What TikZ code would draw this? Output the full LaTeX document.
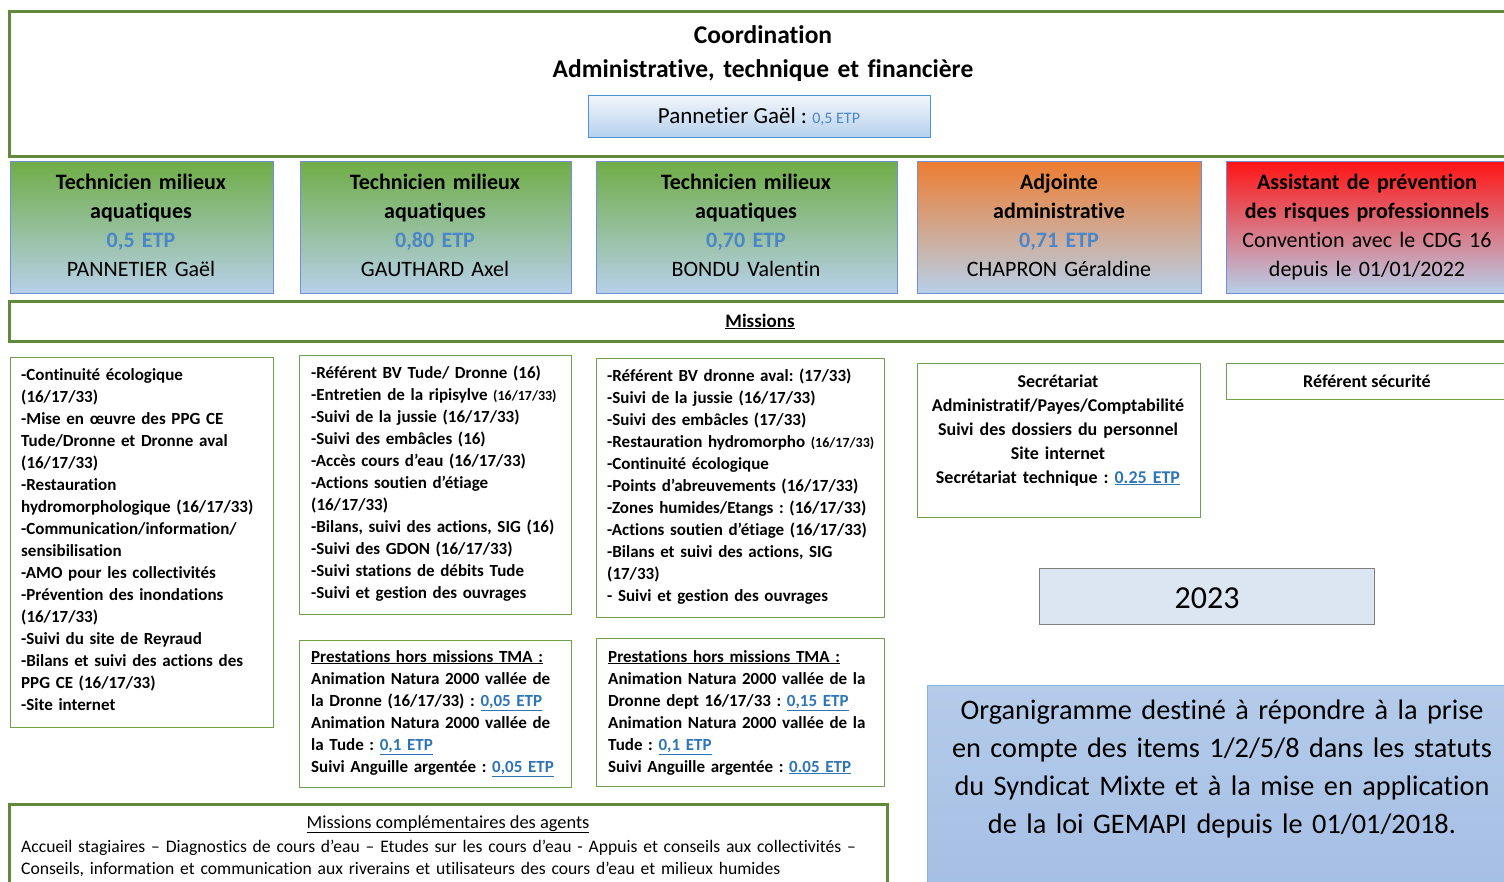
\documentclass[tikz,border=0pt]{standalone}
\usepackage{fontspec}
\setmainfont{Carlito}[Ligatures={NoCommon}]
\frenchspacing
\definecolor{framegreen}{RGB}{96,137,60}
\definecolor{boxgreen}{RGB}{112,160,75}
\definecolor{techgreen}{RGB}{112,173,71}
\definecolor{lightblue}{RGB}{183,208,234}
\definecolor{adjorange}{RGB}{237,125,49}
\definecolor{apred}{RGB}{255,20,20}
\definecolor{techborder}{RGB}{111,143,214}
\definecolor{etpblue}{RGB}{74,134,200}
\definecolor{linkblue}{RGB}{46,117,182}
\definecolor{pantop}{RGB}{242,246,251}
\definecolor{panbot}{RGB}{181,208,237}
\definecolor{panborder}{RGB}{78,148,212}
\definecolor{yearfill}{RGB}{220,230,242}
\definecolor{yearborder}{RGB}{127,127,127}
\definecolor{orgtop}{RGB}{180,203,234}
\definecolor{orgbot}{RGB}{165,190,227}
\definecolor{orgborder}{RGB}{141,179,226}
\newcommand{\etp}[1]{\textcolor{linkblue}{\underline{#1}}}
\newcommand{\smallnum}[1]{{\fontsize{14}{22}\selectfont #1}}
\begin{document}
\begin{tikzpicture}[x=1pt,y=-1pt,
  frame/.style={draw=framegreen, line width=3pt, inner sep=0pt, anchor=north west},
  mbox/.style={draw=boxgreen, line width=1.2pt, inner sep=0pt, anchor=north west},
  techbox/.style={draw=techborder, line width=1pt, inner sep=0pt, anchor=north west, top color=#1, bottom color=lightblue},
  techtext/.style={anchor=base, inner sep=0pt, align=center, font=\fontsize{22}{29.3}\selectfont\bfseries},
  listtext/.style={anchor=base west, inner sep=0pt, align=left, text width=300pt, font=\fontsize{17}{22}\selectfont\bfseries},
  ctext/.style={anchor=base, inner sep=0pt, align=center}
]
\useasboundingbox (0,0) rectangle (1504,881);
\clip (0,0) rectangle (1504,881);

% top coordination frame
\node[frame, minimum width=1504pt, minimum height=145pt] (top) at (8,10) {};
\node[ctext, text width=700pt, font=\fontsize{25.5}{34}\selectfont\bfseries] (coordtitle) at (763,43) {Coordination\\Administrative, technique et financière};
\node[draw=panborder, line width=1pt, top color=pantop, bottom color=panbot, anchor=north west, inner sep=0pt, minimum width=342pt, minimum height=42pt] (pan) at (588,95) {};
\node[ctext, font=\fontsize{23}{26}\selectfont] (pantext) at (759,123) {Pannetier Gaël : {\fontsize{16}{18}\selectfont\textcolor{etpblue}{0,5 ETP}}};

% technician boxes
\node[techbox=techgreen, minimum width=263pt, minimum height=132pt] (b1) at (10,161) {};
\node[techbox=techgreen, minimum width=271pt, minimum height=132pt] (b2) at (300,161) {};
\node[techbox=techgreen, minimum width=301pt, minimum height=132pt] (b3) at (596,161) {};
\node[techbox=adjorange, minimum width=284pt, minimum height=132pt] (b4) at (917,161) {};
\node[techbox=apred, minimum width=290pt, minimum height=132pt] (b5) at (1226,161) {};

\node[techtext, text width=263pt] (t1) at (141,189) {Technicien milieux\\aquatiques\\\textcolor{etpblue}{0,5 ETP}\\\mdseries PANNETIER Gaël};
\node[techtext, text width=271pt] (t2) at (435,189) {Technicien milieux\\aquatiques\\\textcolor{etpblue}{0,80 ETP}\\\mdseries GAUTHARD Axel};
\node[techtext, text width=301pt] (t3) at (746,189) {Technicien milieux\\aquatiques\\\textcolor{etpblue}{0,70 ETP}\\\mdseries BONDU Valentin};
\node[techtext, text width=284pt] (t4) at (1059,189) {Adjointe\\administrative\\\textcolor{etpblue}{0,71 ETP}\\\mdseries CHAPRON Géraldine};
\node[techtext, text width=300pt] (t5) at (1367,189) {Assistant de prévention\\des risques professionnels\\\mdseries Convention avec le CDG 16\\depuis le 01/01/2022};

% missions bar
\node[frame, minimum width=1504pt, minimum height=40pt] (missbar) at (8,300) {};
\node[ctext, font=\fontsize{19}{22}\selectfont\bfseries] (misstitle) at (760,327) {\underline{Missions}};

% mission lists
\node[mbox, minimum width=263pt, minimum height=370pt] (m1) at (10,357) {};
\node[listtext] (m1t) at (21,380) {-Continuité écologique\\(16/17/33)\\-Mise en œuvre des PPG CE\\Tude/Dronne et Dronne aval\\(16/17/33)\\-Restauration\\hydromorphologique (16/17/33)\\-Communication/information/\\sensibilisation\\-AMO pour les collectivités\\-Prévention des inondations\\(16/17/33)\\-Suivi du site de Reyraud\\-Bilans et suivi des actions des\\PPG CE (16/17/33)\\-Site internet};

\node[mbox, minimum width=272pt, minimum height=259pt] (m2) at (299,355) {};
\node[listtext] (m2t) at (311,378) {-Référent BV Tude/ Dronne (16)\\-Entretien de la ripisylve \smallnum{(16/17/33)}\\-Suivi de la jussie (16/17/33)\\-Suivi des embâcles (16)\\-Accès cours d’eau (16/17/33)\\-Actions soutien d’étiage\\(16/17/33)\\-Bilans, suivi des actions, SIG (16)\\-Suivi des GDON (16/17/33)\\-Suivi stations de débits Tude\\-Suivi et gestion des ouvrages};

\node[mbox, minimum width=288pt, minimum height=259pt] (m3) at (596,358) {};
\node[listtext] (m3t) at (607,381) {-Référent BV dronne aval: (17/33)\\-Suivi de la jussie (16/17/33)\\-Suivi des embâcles (17/33)\\-Restauration hydromorpho \smallnum{(16/17/33)}\\-Continuité écologique\\-Points d’abreuvements (16/17/33)\\-Zones humides/Etangs : (16/17/33)\\-Actions soutien d’étiage (16/17/33)\\-Bilans et suivi des actions, SIG\\(17/33)\\- Suivi et gestion des ouvrages};

% prestations
\node[mbox, minimum width=272pt, minimum height=147pt] (p2) at (299,640) {};
\node[listtext] (p2t) at (311,662) {\underline{Prestations hors missions TMA :}\\Animation Natura 2000 vallée de\\la Dronne (16/17/33) : \etp{0,05 ETP}\\Animation Natura 2000 vallée de\\la Tude : \etp{0,1 ETP}\\Suivi Anguille argentée : \etp{0,05 ETP}};

\node[mbox, minimum width=288pt, minimum height=148pt] (p3) at (596,638) {};
\node[listtext] (p3t) at (608,662) {\underline{Prestations hors missions TMA :}\\Animation Natura 2000 vallée de la\\Dronne dept 16/17/33 : \etp{0,15 ETP}\\Animation Natura 2000 vallée de la\\Tude : \etp{0,1 ETP}\\Suivi Anguille argentée : \etp{0.05 ETP}};

% secretariat
\node[mbox, minimum width=283pt, minimum height=154pt] (sec) at (917,363) {};
\node[ctext, text width=283pt, font=\fontsize{18}{24}\selectfont\bfseries] (sect) at (1058,387) {Secrétariat\\Administratif/Payes/Comptabilité\\Suivi des dossiers du personnel\\Site internet\\Secrétariat technique : \etp{0.25 ETP}};

\node[mbox, minimum width=290pt, minimum height=36pt] (ref) at (1226,363) {};
\node[ctext, font=\fontsize{18}{20}\selectfont\bfseries] (reft) at (1367,387) {Référent sécurité};

% 2023
\node[draw=yearborder, line width=1pt, fill=yearfill, anchor=north west, inner sep=0pt, minimum width=335pt, minimum height=56pt] (year) at (1039,568) {};
\node[ctext, font=\fontsize{32}{36}\selectfont] (yeart) at (1207,608) {2023};

% organigramme note
\node[draw=orgborder, line width=1pt, top color=orgtop, bottom color=orgbot, anchor=north west, inner sep=0pt, minimum width=590pt, minimum height=210pt] (org) at (927,685) {};
\node[ctext, text width=580pt, font=\fontsize{28.3}{38}\selectfont] (orgt) at (1222,719) {Organigramme destiné à répondre à la prise\\en compte des items 1/2/5/8 dans les statuts\\du Syndicat Mixte et à la mise en application\\de la loi GEMAPI depuis le 01/01/2018.};

% bottom frame
\node[frame, minimum width=878pt, minimum height=95pt] (bottom) at (8,803) {};
\node[ctext, font=\fontsize{18.4}{20}\selectfont] (bottomtitle) at (448,828) {\underline{Missions complémentaires des agents}};
\node[anchor=base west, inner sep=0pt, align=left, text width=900pt, font=\fontsize{17.6}{22}\selectfont] (bottomt) at (21,852) {Accueil stagiaires – Diagnostics de cours d’eau – Etudes sur les cours d’eau - Appuis et conseils aux collectivités –\\Conseils, information et communication aux riverains et utilisateurs des cours d’eau et milieux humides};
\end{tikzpicture}
\end{document}
